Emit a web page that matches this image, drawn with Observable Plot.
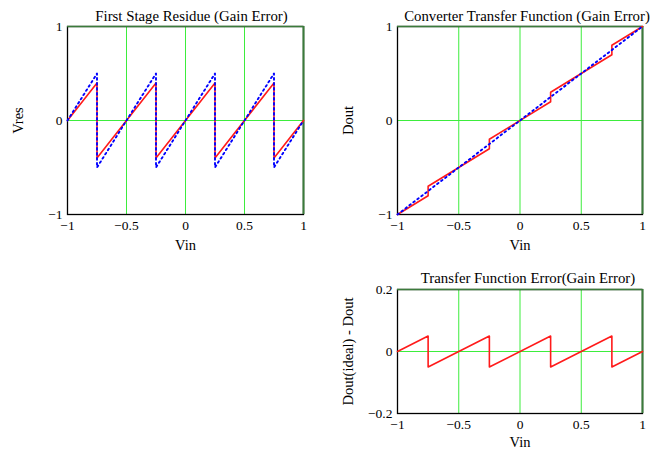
<!DOCTYPE html>
<html><head><meta charset="utf-8">
<script src="https://cdn.jsdelivr.net/npm/d3@7"></script>
<script src="https://cdn.jsdelivr.net/npm/@observablehq/plot@0.6"></script>
<style>
body{margin:0;background:#fff;}
#wrap{position:relative;width:652px;height:451px;overflow:hidden;background:#fff;}
.p{position:absolute;}
</style>
</head><body><div id="wrap"></div>
<script>
// Data
const vin = [-1, -0.75, -0.75, -0.25, -0.25, 0.25, 0.25, 0.75, 0.75, 1];
const vresActual = [0, 0.4, -0.4, 0.4, -0.4, 0.4, -0.4, 0.4, -0.4, 0];
const vresIdeal = [0, 0.5, -0.5, 0.5, -0.5, 0.5, -0.5, 0.5, -0.5, 0];
const doutActual = [-1, -0.8, -0.7, -0.3, -0.2, 0.2, 0.3, 0.7, 0.8, 1];
const vinIdeal = [-1, 1];
const doutIdeal = [-1, 1];
const doutError = [0, 0.05, -0.05, 0.05, -0.05, 0.05, -0.05, 0.05, -0.05, 0];
const xTicks = [-1, -0.5, 0, 0.5, 1];
const yTicksUnit = [-1, 0, 1];
const yTicksErr = [-0.2, 0, 0.2];
const titles = ["First Stage Residue (Gain Error)", "Converter Transfer Function (Gain Error)", "Transfer Function Error(Gain Error)"];
const yLabels = ["Vres", "Dout", "Dout(ideal) - Dout"];
const xLabel = "Vin";

const fmt = d => (d < 0 ? "\u2212" : "") + Math.abs(d);
const GRID = "#3ded3d", EDGE = "#3b7b3b", RED = "#ff1a1a", BLUE = "#0000ff";

function panel({left, top, width, height, mt, mr, mb, ml, title, ylabel, ydomain, yticks, lines, titleDx, titleDy, xlabDy}) {
  const marks = [
    Plot.ruleX(xTicks.filter(d => d > -1 && d < 1), {stroke: GRID, strokeWidth: 1}),
    Plot.ruleY([0], {stroke: GRID, strokeWidth: 1}),
    Plot.frame({stroke: "black", strokeWidth: 1.3}),
    Plot.ruleX([1], {stroke: EDGE, strokeWidth: 2}),
    Plot.ruleY([ydomain[1]], {stroke: EDGE, strokeWidth: 1.5}),
    ...lines,
    Plot.axisX({ticks: xTicks, tickSize: 0, tickPadding: 6, tickFormat: fmt, label: null, fontSize: 13.5}),
    Plot.axisY({ticks: yticks, tickSize: 0, tickPadding: 5, tickFormat: fmt, label: null, fontSize: 13.5}),
    Plot.text([title], {frameAnchor: "top", dy: titleDy, dx: titleDx, textAnchor: "middle", lineAnchor: "middle", fontSize: 14.8}),
    Plot.text([xLabel], {frameAnchor: "bottom", dy: xlabDy, textAnchor: "middle", lineAnchor: "middle", fontSize: 14.5}),
    Plot.text([ylabel], {frameAnchor: "left", dx: -49, rotate: -90, textAnchor: "middle", lineAnchor: "middle", fontSize: 14.5})
  ];
  const svg = Plot.plot({
    width, height, marginTop: mt, marginRight: mr, marginBottom: mb, marginLeft: ml,
    x: {domain: [-1, 1]},
    y: {domain: ydomain},
    style: {fontFamily: "'Liberation Serif', 'Times New Roman', serif", fontSize: "13px", fontWeight: "normal", background: "transparent", color: "black"},
    marks
  });
  svg.classList.add("p");
  svg.style.left = left + "px";
  svg.style.top = top + "px";
  document.getElementById("wrap").appendChild(svg);
}

const red = (xs, ys) => Plot.line(ys, {x: xs, y: ys, stroke: RED, strokeWidth: 1.6});
const blue = (xs, ys) => Plot.line(ys, {x: xs, y: ys, stroke: BLUE, strokeWidth: 1.9, strokeDasharray: "1.7,3.3"});

panel({left: 0, top: 0, width: 330, height: 258, mt: 26, mr: 27, mb: 44, ml: 67,
  title: titles[0], ylabel: yLabels[0], ydomain: [-1, 1], yticks: yTicksUnit,
  lines: [red(vin, vresActual), blue(vin, vresIdeal)], titleDx: 6, titleDy: -10.5, xlabDy: 31});
panel({left: 330, top: 0, width: 322, height: 258, mt: 26, mr: 10, mb: 44, ml: 67,
  title: titles[1], ylabel: yLabels[1], ydomain: [-1, 1], yticks: yTicksUnit,
  lines: [red(vin, doutActual), blue(vinIdeal, doutIdeal)], titleDx: 7, titleDy: -10.5, xlabDy: 31});
panel({left: 330, top: 258, width: 322, height: 193, mt: 31, mr: 10, mb: 38, ml: 67,
  title: titles[2], ylabel: yLabels[2], ydomain: [-0.2, 0.2], yticks: yTicksErr,
  lines: [red(vin, doutError)], titleDx: 8, titleDy: -10.8, xlabDy: 29});
</script>
</body></html>
